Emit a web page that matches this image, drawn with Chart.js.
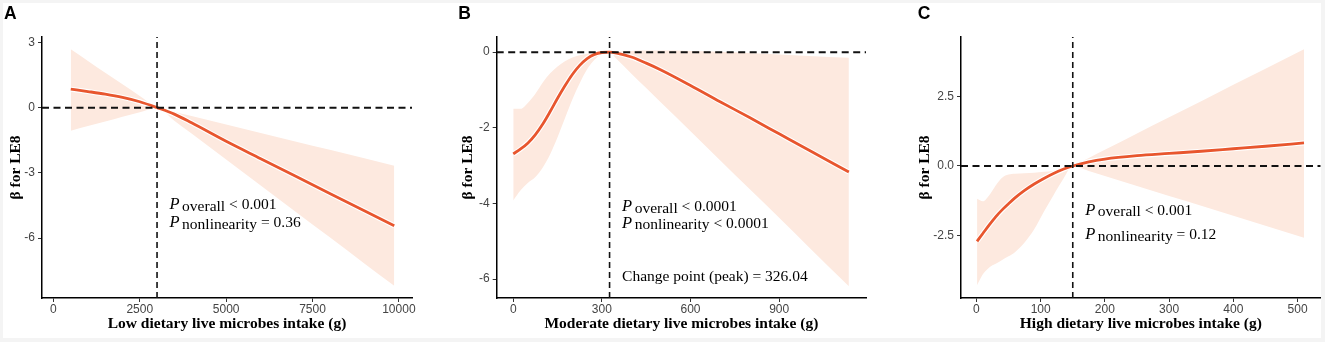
<!DOCTYPE html>
<html>
<head>
<meta charset="utf-8">
<script src="https://cdn.jsdelivr.net/npm/chart.js@4.4.1/dist/chart.umd.min.js"></script>
<style>
  html, body { margin: 0; padding: 0; width: 1325px; height: 342px; overflow: hidden; background: #f4f4f4; }
  #sheet { position: absolute; left: 3px; top: 3px; width: 1318px; height: 335px; background: #fff; }
  canvas { position: absolute; top: 0; }
</style>
</head>
<body>
<div id="sheet"></div>
<canvas id="chartA" width="440" height="342" style="left:0px"></canvas>
<canvas id="chartB" width="440" height="342" style="left:440px"></canvas>
<canvas id="chartC" width="445" height="342" style="left:880px"></canvas>
<script>
// ---- panel A : low intake ----
const xA = [503, 1000, 1500, 2000, 2500, 3000, 3500, 4000, 5000, 6000, 7000, 8000, 9000, 9866];
const fitA = [0.85, 0.74, 0.62, 0.47, 0.27, 0, -0.3, -0.7, -1.55, -2.35, -3.15, -3.95, -4.75, -5.44];
const upperA = [2.69, 2.15, 1.61, 1.08, 0.54, 0, -0.19, -0.39, -0.78, -1.17, -1.56, -1.94, -2.33, -2.67];
const lowerA = [-1.06, -0.85, -0.64, -0.42, -0.21, 0, -0.6, -1.19, -2.39, -3.58, -4.78, -5.97, -7.17, -8.2];
const xTicksA = [0, 2500, 5000, 7500, 10000];
const yTicksA = [-6, -3, 0, 3];
const refA = 3000;
const notesA = [
  { sub: 'overall', text: ' < 0.001' },
  { sub: 'nonlinearity', text: ' = 0.36' }
];

// ---- panel B : moderate intake ----
const xB = [0, 25, 50, 75, 100, 125, 150, 175, 200, 225, 250, 275, 300, 326, 350, 400, 450, 500, 600, 700, 800, 900, 1000, 1136];
const fitB = [-2.69, -2.56, -2.4, -2.18, -1.9, -1.57, -1.22, -0.89, -0.59, -0.35, -0.17, -0.06, -0.01, 0, -0.025, -0.13, -0.29, -0.47, -0.88, -1.31, -1.73, -2.16, -2.59, -3.17];
const upperB = [-1.5, -1.5, -1.34, -1.1, -0.8, -0.56, -0.38, -0.24, -0.14, -0.08, -0.04, -0.02, -0.005, 0, 0.01, 0.03, 0.04, 0.04, 0.03, 0.01, -0.02, -0.06, -0.1, -0.15];
const lowerB = [-3.92, -3.65, -3.45, -3.3, -3.05, -2.7, -2.25, -1.75, -1.25, -0.82, -0.45, -0.2, -0.05, 0, -0.18, -0.57, -0.95, -1.33, -2.09, -2.86, -3.62, -4.38, -5.15, -6.19];
const xTicksB = [0, 300, 600, 900];
const yTicksB = [-6, -4, -2, 0];
const refB = 326.04;
const notesB = [
  { sub: 'overall', text: ' < 0.0001' },
  { sub: 'nonlinearity', text: ' < 0.0001' },
  { sub: '', text: 'Change point (peak) = 326.04' }
];

// ---- panel C : high intake ----
const xC = [1, 10, 20, 30, 40, 50, 60, 75, 90, 105, 120, 135, 150, 175, 200, 250, 300, 350, 400, 450, 510];
const fitC = [-2.71, -2.43, -2.12, -1.83, -1.58, -1.36, -1.15, -0.88, -0.65, -0.45, -0.27, -0.12, 0, 0.15, 0.25, 0.37, 0.45, 0.53, 0.62, 0.71, 0.83];
const upperC = [-1.18, -1.27, -1.05, -0.7, -0.42, -0.31, -0.28, -0.26, -0.24, -0.21, -0.17, -0.09, 0, 0.29, 0.58, 1.17, 1.75, 2.33, 2.92, 3.5, 4.2];
const lowerC = [-4.29, -3.9, -3.65, -3.52, -3.38, -3.25, -3.1, -2.75, -2.28, -1.65, -1.05, -0.48, 0, -0.18, -0.36, -0.72, -1.08, -1.43, -1.79, -2.15, -2.58];
const xTicksC = [0, 100, 200, 300, 400, 500];
const yTicksC = [-2.5, 0, 2.5];
const refC = 150;
const notesC = [
  { sub: 'overall', text: ' < 0.001' },
  { sub: 'nonlinearity', text: ' = 0.12' }
];

const RED = '#e8562e';
const BAND = '#fde9df';
const tickFont = { family: 'Liberation Sans', size: 12 };
const titleFont = { family: 'Liberation Serif', size: 15.5, weight: 'bold', lineHeight: 1 };

function pts(xs, ys) {
  return xs.map((x, i) => ({ x: x, y: ys[i] }));
}

function drawPanel(id, p) {
  const asTicks = vals => vals.map(v => ({ value: v }));
  const axisBits = {
    grid: { drawOnChartArea: false, tickLength: 4, color: '#333', lineWidth: 1 },
    border: { color: '#000', width: 1.5 }
  };

  // text labels, P italic + slightly lowered word
  const notes = {
    id: 'notes',
    afterDraw(chart) {
      const ctx = chart.ctx;
      const area = chart.chartArea;
      const x0 = chart.scales.x.getPixelForValue(p.ref) + 12.5;
      ctx.save();
      ctx.fillStyle = '#000';
      ctx.textBaseline = 'alphabetic';
      ctx.font = 'bold 17.5px "Liberation Sans"';
      ctx.fillText(p.letter, p.letterX, 18.5);
      p.notes.forEach((n, i) => {
        const y = area.top + p.noteY[i];
        let x = x0;
        if (n.sub) {
          ctx.font = 'italic 16.5px "Liberation Serif"';
          ctx.fillText('P', x, y);
          x += ctx.measureText('P').width + 2.5;
          ctx.font = '15.5px "Liberation Serif"';
          ctx.fillText(n.sub, x, y + 1.5);
          x += ctx.measureText(n.sub).width;
        }
        ctx.font = '15.5px "Liberation Serif"';
        ctx.fillText(n.text, x, y);
      });
      ctx.restore();
    }
  };

  new Chart(document.getElementById(id), {
    type: 'line',
    data: {
      datasets: [
        { data: pts(p.x, p.upper), fill: '+1', backgroundColor: BAND, borderColor: 'rgba(0,0,0,0)', borderWidth: 0, cubicInterpolationMode: 'monotone', order: 4 },
        { data: pts(p.x, p.lower), fill: false, borderColor: 'rgba(0,0,0,0)', borderWidth: 0, cubicInterpolationMode: 'monotone', order: 5 },
        { data: pts(p.x, p.fit), borderColor: '#fff', borderWidth: 5, cubicInterpolationMode: 'monotone', order: 3 },
        { data: pts(p.x, p.fit), borderColor: RED, borderWidth: 2.8, cubicInterpolationMode: 'monotone', order: 2 },
        { data: [{ x: p.xMin, y: 0 }, { x: p.xMax, y: 0 }], borderColor: '#111', borderWidth: 2, borderDash: [7, 4.5], order: 1 },
        { data: [{ x: p.ref, y: p.yMin }, { x: p.ref, y: p.yMax }], borderColor: '#111', borderWidth: 1.6, borderDash: [6, 4], order: 0 }
      ]
    },
    options: {
      responsive: false,
      animation: false,
      events: [],
      layout: { padding: { left: p.padL, right: p.padR, top: 37, bottom: 0 } },
      elements: { point: { radius: 0 }, line: { fill: false } },
      plugins: { legend: { display: false }, tooltip: { enabled: false } },
      scales: {
        x: {
          type: 'linear',
          min: p.xMin,
          max: p.xMax,
          afterBuildTicks: s => { s.ticks = asTicks(p.xTicks); },
          afterFit: s => { s.height = 44; },
          ...axisBits,
          ticks: { padding: 0, color: '#444', font: tickFont, maxRotation: 0, autoSkip: false, callback: v => String(v) },
          title: { display: true, text: p.xTitle, color: '#000', font: titleFont, padding: { top: 0, bottom: 10 } }
        },
        y: {
          type: 'linear',
          min: p.yMin,
          max: p.yMax,
          afterBuildTicks: s => { s.ticks = asTicks(p.yTicks); },
          afterFit: s => { s.width = p.yWidth; },
          ...axisBits,
          ticks: { padding: 3, color: '#444', font: tickFont, autoSkip: false, callback: p.yFmt },
          title: { display: true, text: 'β for LE8', color: '#000', font: titleFont, padding: 0 }
        }
      }
    },
    plugins: [notes]
  });
}

drawPanel('chartA', {
  x: xA, fit: fitA, upper: upperA, lower: lowerA,
  xTicks: xTicksA, yTicks: yTicksA, ref: refA, notes: notesA,
  xMin: -330, xMax: 10380, yMin: -8.76, yMax: 3.25,
  xTitle: 'Low dietary live microbes intake (g)',
  yFmt: v => String(v),
  padL: 7.75, yWidth: 34.25, padR: 28,
  letter: 'A', letterX: 4, noteY: [172, 190]
});

drawPanel('chartB', {
  x: xB, fit: fitB, upper: upperB, lower: lowerB,
  xTicks: xTicksB, yTicks: yTicksB, ref: refB, notes: notesB,
  xMin: -56, xMax: 1194, yMin: -6.5, yMax: 0.4,
  xTitle: 'Moderate dietary live microbes intake (g)',
  yFmt: v => String(v),
  padL: 20, yWidth: 36.7, padR: 14,
  letter: 'B', letterX: 18.3, noteY: [174, 190.7, 244]
});

drawPanel('chartC', {
  x: xC, fit: fitC, upper: upperC, lower: lowerC,
  xTicks: xTicksC, yTicks: yTicksC, ref: refC, notes: notesC,
  xMin: -24, xMax: 536, yMin: -4.75, yMax: 4.64,
  xTitle: 'High dietary live microbes intake (g)',
  yFmt: v => v.toFixed(1),
  padL: 37, yWidth: 44, padR: 4.3,
  letter: 'C', letterX: 37.7, noteY: [177.5, 202]
});
</script>
</body>
</html>
